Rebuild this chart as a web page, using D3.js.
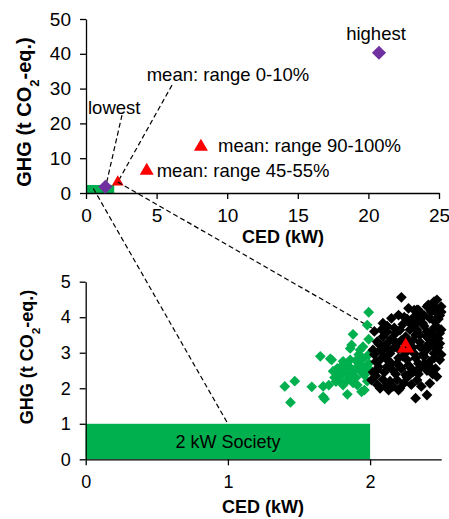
<!DOCTYPE html>
<html lang="en">
<head>
<meta charset="UTF-8">
<title>CED vs GHG</title>
<style>
  body { margin: 0; background: #fff; }
  svg text { font-family: "Liberation Sans", Arial, sans-serif; fill: #000; }
  .axis path, .axis line { stroke: #000; stroke-width: 1.3; }
</style>
</head>
<body>
<svg id="chart" width="449" height="519"></svg>

<script src="https://cdn.jsdelivr.net/npm/d3@7"></script>
<script>
// ---- data ----
let topXTicks = [0, 5, 10, 15, 20, 25]
let topYTicks = [0, 10, 20, 30, 40, 50]
let botXTicks = [0, 1, 2]
let botYTicks = [0, 1, 2, 3, 4, 5]

// purple diamonds: lowest / highest household
let extremes = [
    {name: "lowest", x: 1.37, y: 1.8},
    {name: "highest", x: 20.75, y: 40.3}
]
// red triangles: means of ranges
let means = [
    {name: "mean: range 0-10%", x: 2.25, y: 3.15},
    {name: "mean: range 45-55%", x: 4.3, y: 6.4},
    {name: "mean: range 90-100%", x: 8.14, y: 13.3}
]
// 2 kW society box
let society = {x: 2, y: 1}

// households in lowest decile, green = within 2 kW
let greenPts = [
    [1.40,2.05],[1.47,2.20],[1.44,1.60],[1.59,2.04],[1.67,2.05],[1.67,1.76],[1.68,1.70],
    [1.65,2.90],[1.72,2.83],[1.73,2.80],[1.81,2.76],[1.74,2.48],[1.79,2.33],[1.84,2.23],
    [1.87,2.37],[1.91,2.09],[1.94,1.90],[1.89,2.52],[1.93,2.66],[1.96,2.37],[1.81,2.09],
    [1.76,2.19],[1.71,2.09],[1.95,2.84],[1.99,2.70],[1.84,1.83],[1.99,4.14],[1.98,3.78],
    [1.99,3.38],[1.88,3.52],[1.87,3.22],[1.93,3.08],[1.95,3.17],[1.86,3.12],[1.92,2.95],
    [1.86,2.80],[1.81,2.66],[1.77,2.56],[1.85,2.62],[1.90,2.30],[1.83,2.45],[1.98,2.20],
    [1.97,2.55],[2.00,2.52],[1.96,1.95],[1.99,2.95],[1.90,2.78],[1.78,2.42],[1.75,2.30],
    [1.88,2.15],[1.82,2.55],[1.94,2.45],[1.91,2.60],[1.79,2.20]
]
let blackPts = [
    [2.22,4.56],[2.32,1.72],[2.40,1.81],[2.47,2.33],[2.42,2.14],[2.01,2.23],[2.07,2.00],
    [2.13,1.95],[2.21,2.00],[2.25,2.37],[2.19,2.23],[2.33,2.51],[2.38,2.89],[2.45,2.98],
    [2.49,3.26],[2.47,3.73],[2.50,4.30],[2.45,4.44],[2.40,4.30],[2.34,4.20],[2.31,4.01],
    [2.27,4.25],[2.15,3.97],[2.09,3.83],[2.12,3.59],[2.05,3.31],[2.02,3.08],[2.07,2.80],
    [2.14,2.98],[2.19,3.26],[2.25,3.45],[2.33,3.64],[2.37,3.83],[2.42,3.97],[2.47,4.11],
    [2.40,3.45],[2.45,3.36],[2.35,3.17],[2.31,2.98],[2.26,2.80],[2.21,2.61],[2.16,2.51],
    [2.12,2.61],[2.05,2.51],[2.07,3.08],[2.28,3.83],[2.21,3.64],[2.16,3.36],[2.38,2.70],
    [2.42,2.61],[2.33,2.23],[2.28,2.42],[2.49,2.80],[2.49,3.55],[2.42,3.17],[2.47,3.08],
    [2.33,4.21],[2.47,4.49],[2.41,4.35],[2.20,4.06],
    [2.10,3.20],[2.15,3.40],[2.20,3.10],[2.25,3.25],[2.30,3.35],[2.35,3.50],[2.40,3.60],
    [2.45,3.70],[2.10,2.90],[2.15,2.70],[2.20,2.85],[2.25,3.00],[2.30,3.15],[2.35,3.30],
    [2.40,3.20],[2.45,3.90],[2.48,3.95],[2.43,4.15],[2.38,4.05],[2.33,3.85],[2.28,3.65],
    [2.23,3.80],[2.18,3.55],[2.13,3.30],[2.08,3.05],[2.04,2.75],[2.06,2.60],[2.10,2.45],
    [2.14,2.20],[2.18,2.40],[2.22,2.55],[2.27,2.65],[2.32,2.85],[2.37,2.95],[2.42,2.75],
    [2.46,2.55],[2.44,2.40],[2.40,2.50],[2.36,2.60],[2.30,2.45],[2.24,2.15],[2.20,1.95],
    [2.12,3.75],[2.26,3.95],[2.31,4.20],[2.36,4.10],[2.44,4.35],[2.49,4.05],[2.46,3.45],
    [2.50,3.65],[2.48,3.15],[2.41,3.40],[2.03,2.95],[2.06,3.25],[2.09,3.45],[2.02,2.45],
    [2.05,2.10],[2.11,2.05],
    [2.03,3.60],[2.08,3.65],[2.17,3.15],[2.23,2.90],[2.29,2.55],[2.34,2.70],[2.39,3.05],
    [2.44,3.25],[2.48,3.40],[2.43,3.55],[2.38,3.75],[2.32,3.50],[2.27,3.30],[2.22,3.35],
    [2.17,3.70],[2.13,3.10],[2.19,2.70],[2.26,2.30],[2.34,2.40],[2.45,2.85],[2.50,2.95],
    [2.36,2.05],[2.29,2.10],[2.16,2.05],[2.09,2.25],[2.04,2.35],[2.12,2.80],[2.24,4.00],
    [2.30,3.80],[2.46,4.25],[2.50,4.15],[2.35,3.95]
]

// ---- colours ----
let green = "#00b04f"
let purple = "#7030a0"
let red = "#ff0000"

let svg = d3.select("#chart")

// ---- scales ----
let xTop = d3.scaleLinear().domain([0, 25]).range([86, 439])
let yTop = d3.scaleLinear().domain([0, 50]).range([193, 19])
let xBot = d3.scaleLinear().domain([0, 2.5]).range([85.7, 441.2])
let yBot = d3.scaleLinear().domain([0, 5]).range([459.3, 281.7])

function drawAxes(g, x, y, xt, yt, fs) {
    let xa = g.append("g").attr("class", "axis")
        .attr("transform", `translate(0,${y.range()[0]})`)
        .call(d3.axisBottom(x).tickValues(xt).tickFormat(d3.format("d"))
            .tickSize(6).tickSizeOuter(0).tickPadding(10))
    let ya = g.append("g").attr("class", "axis")
        .attr("transform", `translate(${x.range()[0]},0)`)
        .call(d3.axisLeft(y).tickValues(yt).tickFormat(d3.format("d"))
            .tickSize(6).tickSizeOuter(0).tickPadding(9))
    xa.selectAll("text").style("font-size", fs + "px")
    ya.selectAll("text").style("font-size", fs + "px")
}

function dashed(g, x1, y1, x2, y2) {
    g.append("line")
        .attr("x1", x1).attr("y1", y1).attr("x2", x2).attr("y2", y2)
        .attr("stroke", "#000").attr("stroke-width", 1.2)
        .attr("stroke-dasharray", "5,3")
}

function yTitle(g, x, y, fs) {
    let t = g.append("text")
        .attr("transform", `translate(${x},${y}) rotate(-90)`)
        .attr("text-anchor", "middle")
        .style("font-weight", "bold").style("font-size", fs + "px")
    t.append("tspan").text("GHG (t CO")
    t.append("tspan").text("2").attr("baseline-shift", "sub").style("font-size", (fs * 0.65) + "px")
    t.append("tspan").text("-eq.)")
}

let diamond = d3.symbol().type(d3.symbolSquare)
let tri = d3.symbol().type(d3.symbolTriangle)

// ================= top panel =================
let topG = svg.append("g")

topG.append("rect")
    .attr("x", xTop(0)).attr("y", yTop(2.3))
    .attr("width", xTop(society.x) - xTop(0))
    .attr("height", yTop(0) - yTop(2.3))
    .attr("fill", green)

drawAxes(topG, xTop, yTop, topXTicks, topYTicks, 19)

// leader lines
dashed(topG, xTop(2.55), yTop(22.4), xTop(extremes[0].x) + 1, yTop(extremes[0].y) - 3)
dashed(topG, xTop(6.09), yTop(31.0), xTop(means[0].x), yTop(means[0].y))
// lines linking the panels
dashed(svg, xTop(0.52), yTop(1.3), xBot(1), yBot(1))
dashed(svg, xTop(means[0].x), yTop(means[0].y), xBot(means[0].x), yBot(means[0].y))

topG.selectAll(".ext").data(extremes).enter().append("path")
    .attr("d", diamond.size(100))
    .attr("transform", d => `translate(${xTop(d.x)},${yTop(d.y)}) rotate(45)`)
    .attr("fill", purple)

topG.selectAll(".mean").data(means).enter().append("path")
    .attr("d", (d, i) => tri.size(i == 0 ? 60 : 85)())
    .attr("transform", d => `translate(${xTop(d.x)},${yTop(d.y)})`)
    .attr("fill", red)

let notes = topG.append("g").style("font-size", "18.5px")
notes.append("text").attr("x", 376).attr("y", 40).attr("text-anchor", "middle").text("highest")
notes.append("text").attr("x", 146.7).attr("y", 81).text("mean: range 0-10%")
notes.append("text").attr("x", 88).attr("y", 114).text("lowest")
notes.append("text").attr("x", 218).attr("y", 151.7).text("mean: range 90-100%")
notes.append("text").attr("x", 156.7).attr("y", 176.7).text("mean: range 45-55%")

topG.append("text").attr("x", 283).attr("y", 243)
    .attr("text-anchor", "middle")
    .style("font-weight", "bold").style("font-size", "18px")
    .text("CED (kW)")
yTitle(topG, 31, 112, 20)

// ================= bottom panel =================
let botG = svg.append("g")

botG.append("rect")
    .attr("x", xBot(0)).attr("y", yBot(society.y))
    .attr("width", xBot(society.x) - xBot(0))
    .attr("height", yBot(0) - yBot(society.y))
    .attr("fill", green)

botG.append("text")
    .attr("x", xBot(1)).attr("y", 448)
    .attr("text-anchor", "middle").style("font-size", "18px")
    .text("2 kW Society")

drawAxes(botG, xBot, yBot, botXTicks, botYTicks, 18)

botG.selectAll(".g").data(greenPts).enter().append("path")
    .attr("d", diamond.size(58))
    .attr("transform", d => `translate(${xBot(d[0])},${yBot(d[1])}) rotate(45)`)
    .attr("fill", green)

botG.selectAll(".b").data(blackPts).enter().append("path")
    .attr("d", diamond.size(58))
    .attr("transform", d => `translate(${xBot(d[0])},${yBot(d[1])}) rotate(45)`)
    .attr("fill", "#000")

botG.append("path")
    .attr("d", tri.size(130)())
    .attr("transform", `translate(${xBot(means[0].x)},${yBot(means[0].y)})`)
    .attr("fill", red)
botG.append("circle")
    .attr("cx", xBot(means[0].x)).attr("cy", yBot(means[0].y))
    .attr("r", 0.8).attr("fill", "#000")

botG.append("text").attr("x", 263).attr("y", 513)
    .attr("text-anchor", "middle")
    .style("font-weight", "bold").style("font-size", "18px")
    .text("CED (kW)")
yTitle(botG, 33, 357, 18)
</script>
</body>
</html>
